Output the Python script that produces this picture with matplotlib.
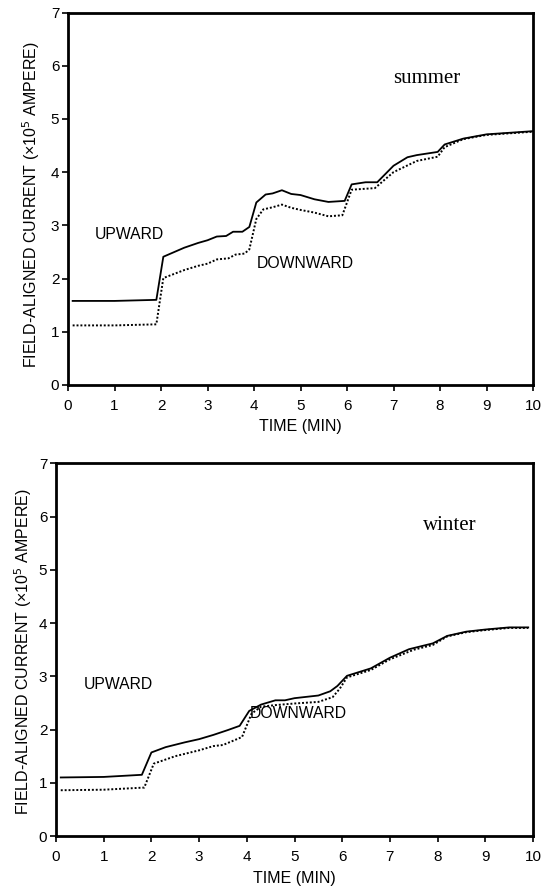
import matplotlib
matplotlib.use("Agg")
import matplotlib.pyplot as plt

# Summer
summer_up_t = [0.1, 1.0, 1.9, 2.05, 2.5, 2.8, 3.0, 3.2, 3.4, 3.55, 3.75, 3.9, 4.05, 4.25, 4.4, 4.6,
               4.8, 5.0, 5.3, 5.6, 5.95, 6.1, 6.4, 6.65, 7.0, 7.3, 7.5, 7.95, 8.1, 8.5, 9.0, 9.5, 10.0]
summer_up = [1.58, 1.58, 1.60, 2.41, 2.58, 2.67, 2.72, 2.79, 2.80, 2.88, 2.88, 2.97, 3.43, 3.58, 3.60, 3.66,
             3.59, 3.57, 3.49, 3.44, 3.46, 3.77, 3.81, 3.81, 4.12, 4.28, 4.32, 4.38, 4.52, 4.63, 4.71, 4.74, 4.77]
summer_down_t = [0.1, 1.0, 1.9, 2.05, 2.5, 2.8, 3.0, 3.2, 3.45, 3.6, 3.8, 3.9, 4.05, 4.2, 4.4, 4.6,
                 4.8, 5.0, 5.3, 5.6, 5.9, 6.1, 6.6, 7.0, 7.5, 7.95, 8.1, 8.5, 9.0, 9.5, 10.0]
summer_down = [1.12, 1.12, 1.14, 2.01, 2.16, 2.24, 2.28, 2.36, 2.38, 2.45, 2.47, 2.55, 3.12, 3.30, 3.34, 3.39,
               3.33, 3.29, 3.24, 3.17, 3.19, 3.67, 3.70, 4.00, 4.21, 4.29, 4.47, 4.62, 4.70, 4.73, 4.76]

# Winter
winter_up_t = [0.1, 1.0, 1.8, 2.0, 2.3, 2.7, 3.0, 3.3, 3.6, 3.85, 4.05, 4.3, 4.6, 4.8, 5.0, 5.5,
               5.75, 5.9, 6.1, 6.6, 7.0, 7.4, 7.9, 8.2, 8.6, 9.0, 9.5, 9.9]
winter_up = [1.10, 1.11, 1.15, 1.57, 1.67, 1.76, 1.82, 1.90, 1.99, 2.07, 2.35, 2.47, 2.55, 2.55, 2.59, 2.64,
             2.72, 2.82, 3.01, 3.15, 3.35, 3.51, 3.62, 3.76, 3.84, 3.88, 3.92, 3.92]
winter_down_t = [0.1, 1.0, 1.85, 2.05, 2.5, 3.0, 3.3, 3.5, 3.9, 4.1, 4.3, 4.6, 5.0, 5.5, 5.8, 5.95,
                 6.1, 6.6, 7.0, 7.5, 7.9, 8.2, 8.6, 9.0, 9.5, 9.9]
winter_down = [0.86, 0.87, 0.91, 1.36, 1.50, 1.61, 1.69, 1.71, 1.86, 2.30, 2.43, 2.46, 2.49, 2.52, 2.61, 2.77,
               2.98, 3.12, 3.32, 3.50, 3.59, 3.75, 3.83, 3.87, 3.91, 3.91]

xticks = list(range(0, 11))
yticks = list(range(0, 8))
ylabel = "FIELD-ALIGNED CURRENT (\u00d710$^{5}$ AMPERE)"
xlabel = "TIME (MIN)"

sans = "Liberation Sans"
serif = "Liberation Serif"

fig = plt.figure(figsize=(5.49, 8.92), dpi=100)
ax1 = fig.add_axes([68 / 549, 1 - 385 / 892, 465 / 549, 372.5 / 892])
ax2 = fig.add_axes([56 / 549, 1 - 836 / 892, 477 / 549, 372.5 / 892])

panels = [
    (ax1, summer_up_t, summer_up, summer_down_t, summer_down, "summer", (7.0, 5.76), (0.58, 2.83), (4.06, 2.29),
     (-0.080, 0.485), (0.5, -0.112)),
    (ax2, winter_up_t, winter_up, winter_down_t, winter_down, "winter", (7.7, 5.84), (0.59, 2.84), (4.07, 2.31),
     (-0.069, 0.495), (0.5, -0.113)),
]

for ax, ut, u, dt, d, season, spos, upos, dpos, ylc, xlc in panels:
    ax.plot(ut, u, color="black", lw=1.3, solid_joinstyle="round")
    ax.plot(dt, d, color="black", lw=1.4, linestyle=(0, (1, 1)))
    ax.set_xlim(0, 10)
    ax.set_ylim(0, 7)
    ax.set_xticks(xticks)
    ax.set_yticks(yticks)
    ax.tick_params(direction="out", length=4.3, width=1.2, labelsize=11)
    ax.tick_params(axis="x", pad=6)
    ax.tick_params(axis="y", pad=2)
    for lab in ax.get_xticklabels() + ax.get_yticklabels():
        lab.set_fontfamily(sans)
    for s in ax.spines.values():
        s.set_linewidth(2.0)
    ax.set_ylabel(ylabel, fontsize=11.5, family=sans)
    ax.yaxis.set_label_coords(*ylc)
    ax.yaxis.label.set_va("center")
    ax.set_xlabel(xlabel, fontsize=11.5, family=sans)
    ax.xaxis.set_label_coords(*xlc)
    ax.xaxis.label.set_va("center")
    ax.text(spos[0], spos[1], season, fontsize=15, family=serif, va="center", ha="left")
    ax.text(upos[0], upos[1], "UPWARD", fontsize=11.3, family=sans, va="center", ha="left")
    ax.text(dpos[0], dpos[1], "DOWNWARD", fontsize=11.3, family=sans, va="center", ha="left")

fig.savefig("out.png", dpi=100)
